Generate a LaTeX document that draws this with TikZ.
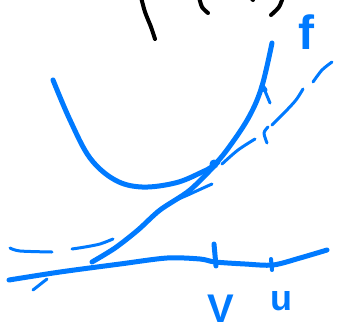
\documentclass[tikz,border=0pt]{standalone}
\usepackage{fontspec}
\setsansfont{Liberation Sans}
\begin{document}
\begin{tikzpicture}[x=1pt,y=-1pt,
  blk/.style={line width=4pt,line cap=round,black},
  bl/.style={line width=5pt,line cap=round,line join=round,color=penblue},
  blthin/.style={line width=3pt,line cap=round,line join=round,color=penblue},
  lbl/.style={text=penblue,inner sep=0pt}]
\definecolor{penblue}{RGB}{0,122,255}
\useasboundingbox (0,0) rectangle (351,333);
% black fragments at top
\draw[blk] plot[smooth] coordinates {(141,-3) (145,12) (151,27) (155,39)};
\draw[blk] plot[smooth] coordinates {(199,-3) (202,7) (208,13)};
\draw[blk] (252,-1) -- (253,0);
\draw[blk] plot[smooth] coordinates {(283,-3) (279,7) (271,15)};
% parabola
\draw[bl] plot[smooth,tension=0.6] coordinates {(53,80) (70,120) (90,158) (115,180) (142,187) (175,183) (200,173) (215,164) (232,143) (250,115) (262,86) (272,43)};
\draw[bl] (262,86) -- (265,90);
\draw[blthin] (265,91) -- (270,103);
\fill[penblue] (214,164) circle (4.5pt);
% tangent line (double stroke)
\draw[bl] plot[smooth] coordinates {(218,162) (190,190) (160,210) (138,230) (115,248) (92,262)};
\draw[blthin] plot[smooth] coordinates {(212,184) (190,194) (165,206) (140,228)};
% secant / dashed wavy line
\draw[blthin] plot[smooth] coordinates {(332,62) (322,70) (313,82)};
\draw[blthin] plot[smooth] coordinates {(303,89) (296,100) (285,112) (272,125)};
\draw[blthin] plot[smooth] coordinates {(267,143) (264,133) (268,127)};
\draw[blthin] plot[smooth] coordinates {(255,139) (238,150) (222,164)};
\draw[blthin] plot[smooth] coordinates {(113,239) (100,244) (85,247) (72,249)};
\draw[blthin] plot[smooth] coordinates {(10,248) (20,251) (52,252)};
% axis
\draw[bl] plot[smooth,tension=0.5] coordinates {(9,280) (60,272) (120,264) (167,258) (200,259) (215,262) (245,264) (273,265) (300,258) (327,250)};
\draw[blthin] (33,290) -- (47,279);
% ticks
\draw[line width=5pt,line cap=round,penblue] (214,244) -- (216,266);
\draw[line width=4pt,line cap=round,penblue] (271,259) -- (272,270);
% labels
\node[lbl,font=\sffamily\bfseries\fontsize{48}{48}\selectfont] (f) at (306,32) {f};
\node[lbl,font=\sffamily\bfseries\fontsize{40}{40}\selectfont] (v) at (221,309) {V};
\node[lbl,font=\sffamily\bfseries\fontsize{36}{36}\selectfont] (u) at (281,301) {u};
\end{tikzpicture}
\end{document}
